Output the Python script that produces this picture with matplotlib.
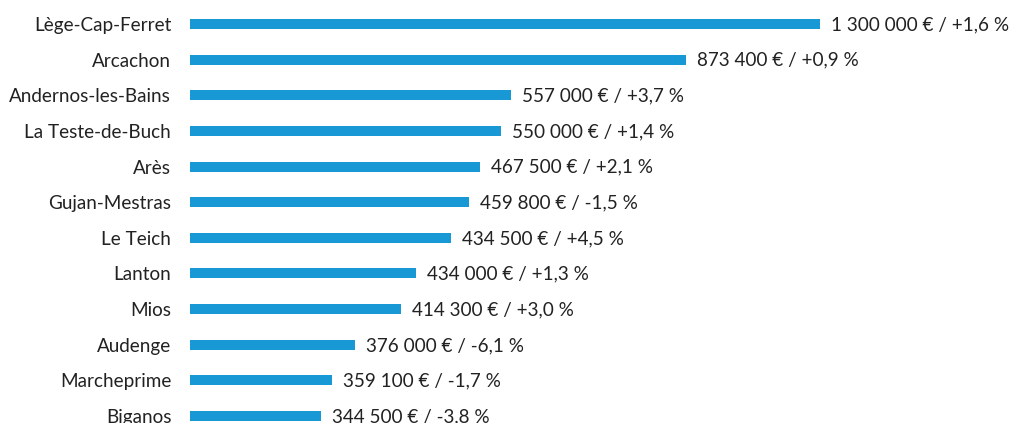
import matplotlib.pyplot as plt

# communes, top to bottom
communes = ["Lège-Cap-Ferret", "Arcachon", "Andernos-les-Bains", "La Teste-de-Buch",
            "Arès", "Gujan-Mestras", "Le Teich", "Lanton", "Mios", "Audenge",
            "Marcheprime", "Biganos"]
# bar lengths as drawn in the source graphic (not proportional to the labels)
bar_lengths = [630, 496, 321, 311, 290, 279, 261, 226, 211, 165, 142, 131]
prix = ["1 300 000 €", "873 400 €", "557 000 €", "550 000 €", "467 500 €", "459 800 €",
        "434 500 €", "434 000 €", "414 300 €", "376 000 €", "359 100 €", "344 500 €"]
evolution = ["+1,6 %", "+0,9 %", "+3,7 %", "+1,4 %", "+2,1 %", "-1,5 %",
             "+4,5 %", "+1,3 %", "+3,0 %", "-6,1 %", "-1,7 %", "-3,8 %"]

plt.rcParams['font.family'] = ['Lato', 'DejaVu Sans']
bleu = "#1899d5"
texte = "#222222"

fig = plt.figure(figsize=(10.11, 4.23), dpi=100)
ax = fig.add_axes([190 / 1011, 0, 1 - 190 / 1011, 1])

pos = list(range(len(communes)))
ax.barh(pos, bar_lengths, height=0.28, color=bleu)

for i, (l, p, e) in enumerate(zip(bar_lengths, prix, evolution)):
    ax.annotate(f"{p} / {e}", (l, i), xytext=(8, -0.5), textcoords="offset points",
                va="center", ha="left", fontsize=13.6, color=texte, annotation_clip=False)

ax.set_xlim(0, 821)
ax.set_ylim(11.195, -0.673)
ax.set_yticks(pos)
ax.set_yticklabels(communes, fontsize=13.6, color=texte)
ax.tick_params(axis="y", length=0, pad=13.5)
ax.set_xticks([])
for s in ax.spines.values():
    s.set_visible(False)

fig.savefig("out.png", dpi=100)
